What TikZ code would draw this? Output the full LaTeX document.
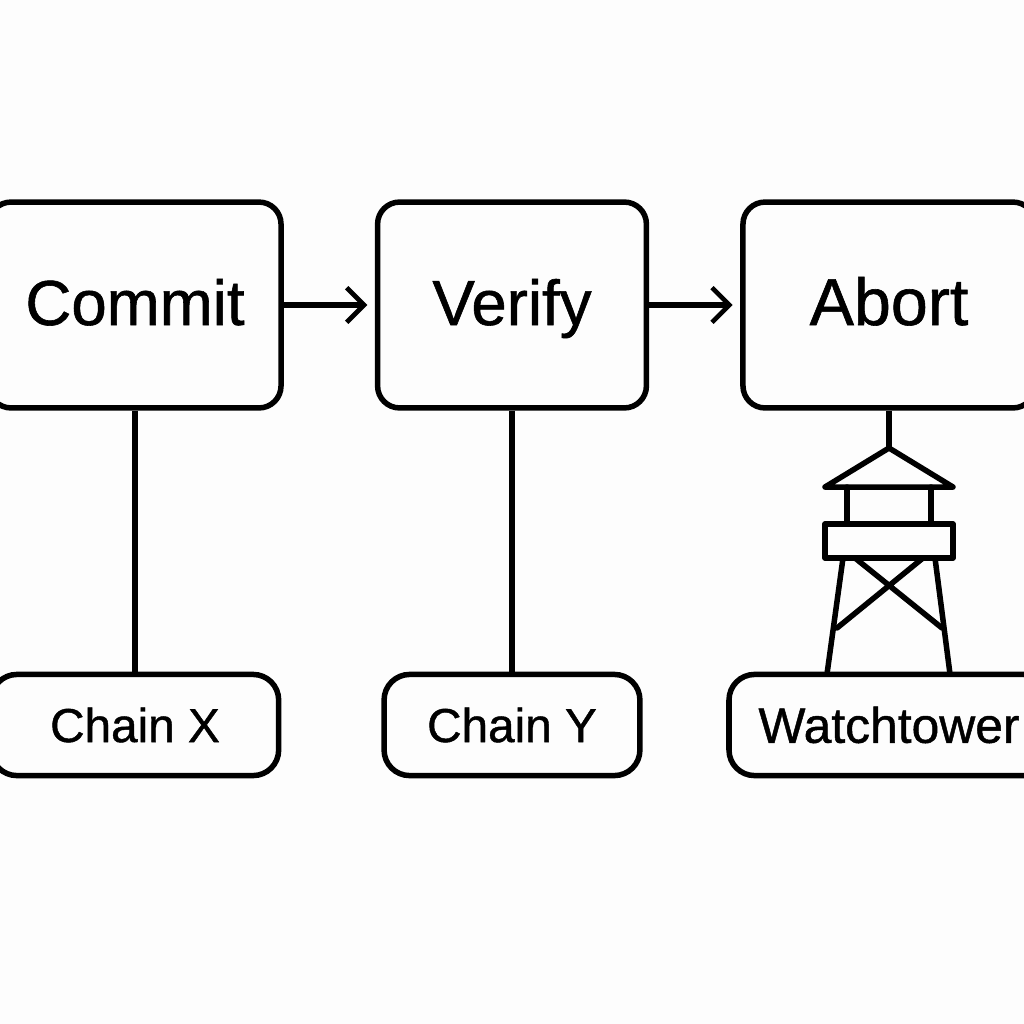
\documentclass[tikz,border=0pt]{standalone}
\usepackage{fontspec}
\setmainfont[FakeBold=0.9]{Liberation Sans}
\usetikzlibrary{arrows.meta}
\definecolor{paper}{HTML}{FDFDFD}
\tikzset{
  stepbox/.style={draw,line width=1.4mm,rounded corners=5.6mm,minimum height=5.23cm,text height=1.2cm,text depth=.184cm,font=\fontsize{46}{50}\selectfont},
  chainbox/.style={draw,line width=1.4mm,rounded corners=6.5mm,minimum height=2.57cm,font=\fontsize{34.5}{38}\selectfont},
  link/.style={line width=1.4mm},
  flow/.style={line width=1.4mm,-{Straight Barb[length=4.4mm,width=8.8mm,line width=1.2mm]},shorten >=1.9mm},
  tower/.style={line width=1.4mm,line join=round,line cap=round}
}
\begin{document}
% 1 unit = 1 pixel of the reference
\begin{tikzpicture}[x=.0254cm,y=-.0254cm]
  \fill[paper] (0,0) rectangle (1024,1024);
  \useasboundingbox (0,0) rectangle (1024,1024);
  \node[stepbox,minimum width=7.42cm] (commit) at (135,305) {Commit};
  \node[stepbox,minimum width=6.83cm] (verify) at (512,305) {Verify};
  \node[stepbox,minimum width=7.42cm,font=\fontsize{48}{50}\selectfont] (abort) at (889,305) {Abort};
  \node[chainbox,minimum width=7.3cm] (chainx) at (135,725) {Chain X};
  \node[chainbox,minimum width=6.5cm] (chainy) at (512,725) {Chain Y};
  \node[chainbox,minimum width=8.13cm,font=\fontsize{36}{38}\selectfont] (watch) at (889,725) {Watchtower};
  \coordinate (roof) at (889,448);
  \draw[flow] (commit) -- (verify);
  \draw[flow] (verify) -- (abort);
  \draw[link] (commit) -- (chainx);
  \draw[link] (verify) -- (chainy);
  \draw[link] (abort) -- (roof);
  % watchtower
  \draw[tower] (roof) -- (953,487) -- (825,487) -- cycle;
  \draw[tower] (847,487) -- (847,524) (931,487) -- (931,524);
  \draw[tower] (825,524) rectangle (953,558);
  \draw[tower] (843,558) -- (827,674) (935,558) -- (950,674);
  \draw[tower] (855,558) -- (942,628) (923,558) -- (837,628);
\end{tikzpicture}
\end{document}
